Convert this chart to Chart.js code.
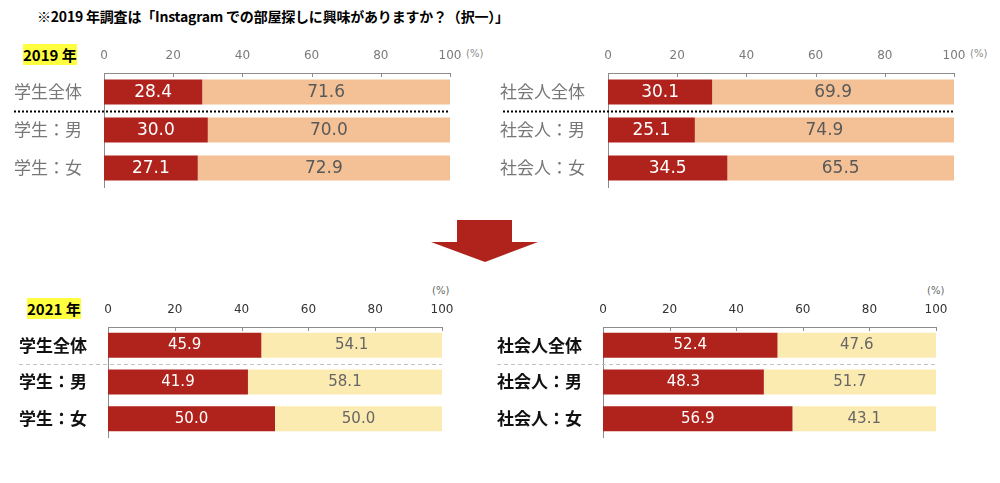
<!DOCTYPE html>
<html><head><meta charset="utf-8">
<script src="https://cdn.jsdelivr.net/npm/chart.js@4.4.1/dist/chart.umd.min.js"></script>
<style>
body{margin:0;background:#fff;width:1000px;height:483px;position:relative;overflow:hidden;font-family:"Noto Sans CJK JP",sans-serif;}
canvas{position:absolute;}
.t{position:absolute;white-space:nowrap;}
.yr{background:#ffff40;font-size:15px;font-weight:bold;line-height:21px;height:21px;width:54px;color:#000;}
.pc{font-family:"DejaVu Sans",sans-serif;}
#arrow{position:absolute;left:431px;top:220px;width:107px;height:42px;background:#af231c;clip-path:polygon(26px 0,81px 0,81px 22px,107px 22px,54px 42px,0 22px,26px 22px);}
</style></head><body>
<div class="t" style="left:37px;top:6px;font-size:14px;font-weight:bold;line-height:20px;color:#000;letter-spacing:-0.2px;">※2019 年調査は「Instagram での部屋探しに興味がありますか？（択一）」</div>
<div class="t yr" style="left:23px;top:44px;">2019 年</div>
<div class="t yr" style="left:27px;top:298px;">2021 年</div>
<div class="t pc" style="left:466px;top:48px;font-size:10px;color:#8a8a8a;">(%)</div>
<div class="t pc" style="left:970px;top:48px;font-size:10px;color:#8a8a8a;">(%)</div>
<div class="t pc" style="left:432px;top:285px;font-size:10px;color:#666;">(%)</div>
<div class="t pc" style="left:927px;top:285px;font-size:10px;color:#666;">(%)</div>
<div id="arrow"></div>
<canvas id="c1" width="490" height="160" style="left:0;top:40px"></canvas>
<canvas id="c2" width="510" height="160" style="left:490px;top:40px"></canvas>
<canvas id="c3" width="490" height="170" style="left:0;top:280px"></canvas>
<canvas id="c4" width="510" height="170" style="left:490px;top:280px"></canvas>
<script>
// ---- data ----
const studentCategories = ['学生全体', '学生：男', '学生：女'];
const workerCategories = ['社会人全体', '社会人：男', '社会人：女'];
const xTickValues = [0, 20, 40, 60, 80, 100];

const student2019Yes = [28.4, 30.0, 27.1];
const student2019No  = [71.6, 70.0, 72.9];
const worker2019Yes  = [30.1, 25.1, 34.5];
const worker2019No   = [69.9, 74.9, 65.5];

const student2021Yes = [45.9, 41.9, 50.0];
const student2021No  = [54.1, 58.1, 50.0];
const worker2021Yes  = [52.4, 48.3, 56.9];
const worker2021No   = [47.6, 51.7, 43.1];

const seriesNames = ['興味がある', '興味がない'];

// ---- plugin ----
const decor = {
  id: 'decor',
  afterDatasetsDraw(chart, args, o) {
    const ctx = chart.ctx;
    chart.data.datasets.forEach((ds, i) => {
      const meta = chart.getDatasetMeta(i);
      meta.data.forEach((el, j) => {
        const v = ds.data[j];
        ctx.save();
        ctx.font = o.valueFont;
        ctx.fillStyle = o.valueColors[i];
        ctx.textAlign = 'center';
        ctx.textBaseline = 'middle';
        ctx.fillText(v.toFixed(1), (el.x + el.base) / 2, el.y + o.valueDy);
        ctx.restore();
      });
    });
  },
  afterDraw(chart, args, o) {
    const {ctx, chartArea, scales: {x, y}} = chart;
    ctx.save();
    ctx.strokeStyle = o.axisColor;
    ctx.lineWidth = 1;
    x.ticks.forEach(t => {
      const px = Math.round(x.getPixelForValue(t.value)) + 0.5;
      ctx.beginPath();
      ctx.moveTo(px, chartArea.top);
      ctx.lineTo(px, chartArea.top + o.tickLen);
      ctx.stroke();
    });
    const sy = Math.round((y.getPixelForValue(0) + y.getPixelForValue(1)) / 2) + 0.5;
    ctx.setLineDash(o.sepDash);
    ctx.strokeStyle = o.sepColor;
    ctx.lineWidth = o.sepWidth;
    ctx.beginPath();
    ctx.moveTo(y.left + o.sepStart, sy);
    ctx.lineTo(chartArea.right + o.sepEnd, sy);
    ctx.stroke();
    ctx.restore();
  }
};

function makeChart(id, cats, yes, no, c) {
  new Chart(document.getElementById(id), {
    type: 'bar',
    data: {
      labels: cats,
      datasets: [
        {label: seriesNames[0], data: yes, backgroundColor: '#af231c', borderWidth: 0},
        {label: seriesNames[1], data: no, backgroundColor: c.light, borderWidth: 0}
      ]
    },
    options: {
      indexAxis: 'y',
      responsive: false,
      animation: false,
      devicePixelRatio: 1,
      layout: {padding: c.pad},
      datasets: {bar: {barPercentage: c.barPct, categoryPercentage: 1}},
      plugins: {
        legend: {display: false},
        tooltip: {enabled: false},
        decor: {
          valueFont: c.valueFont, valueColors: ['#ffffff', c.valueGray], valueDy: c.valueDy,
          axisColor: c.axisColor, tickLen: 4,
          sepDash: c.sepDash, sepColor: c.sepColor, sepWidth: c.sepWidth,
          sepStart: c.sepStart, sepEnd: c.sepEnd
        }
      },
      scales: {
        x: {
          position: 'top', stacked: true, min: 0, max: 100,
          afterBuildTicks: s => { s.ticks = xTickValues.map(v => ({value: v})); },
          afterFit: s => { s.height = c.xH; },
          grid: {display: false, drawTicks: false},
          border: {display: true, color: c.axisColor, width: 1},
          ticks: {padding: c.tickPad, color: c.tickColor, font: c.tickFont, maxRotation: 0}
        },
        y: {
          stacked: true,
          afterFit: s => { s.width = c.yW; },
          grid: {display: false, drawTicks: false},
          border: {display: true, color: c.axisColor, width: 1},
          ticks: {crossAlign: 'far', color: c.catColor, font: c.catFont, padding: 0}
        }
      }
    },
    plugins: [decor]
  });
}

const s2019 = {
  light: '#f4c196', valueFont: '17px "DejaVu Sans"', valueGray: '#595959', valueDy: 1,
  axisColor: '#8c8c8c', sepDash: [2, 2], sepColor: '#000', sepWidth: 2, sepEnd: 0,
  tickPad: 10, tickColor: '#7a7a7a', tickFont: {family: 'DejaVu Sans', size: 12},
  catColor: '#777777', catFont: {family: 'Noto Sans CJK JP', size: 17, weight: 'normal'},
  barPct: 0.66, xH: 33
};
const s2021 = {
  light: '#fcebb1', valueFont: '15px "DejaVu Sans"', valueGray: '#666666', valueDy: 0,
  axisColor: '#8c8c8c', sepDash: [4, 3], sepColor: '#c4c4c4', sepWidth: 1, sepEnd: 0,
  tickPad: 10, tickColor: '#333333', tickFont: {family: 'DejaVu Sans', size: 12},
  catColor: '#111111', catFont: {family: 'Noto Sans CJK JP', size: 17, weight: 'bold'},
  barPct: 0.68, xH: 47
};

makeChart('c1', studentCategories, student2019Yes, student2019No,
  Object.assign({}, s2019, {pad: {left: 14, right: 40, top: 0, bottom: 13}, yW: 90, sepStart: 0}));
makeChart('c2', workerCategories, worker2019Yes, worker2019No,
  Object.assign({}, s2019, {pad: {left: 10, right: 46, top: 0, bottom: 13}, yW: 108, sepStart: 3, sepEnd: 1}));
makeChart('c3', studentCategories, student2021Yes, student2021No,
  Object.assign({}, s2021, {pad: {left: 19, right: 48, top: 0, bottom: 13}, yW: 89, sepStart: 0}));
makeChart('c4', workerCategories, worker2021Yes, worker2021No,
  Object.assign({}, s2021, {pad: {left: 7, right: 64, top: 0, bottom: 13}, yW: 106, sepStart: 0}));
</script>
</body></html>
